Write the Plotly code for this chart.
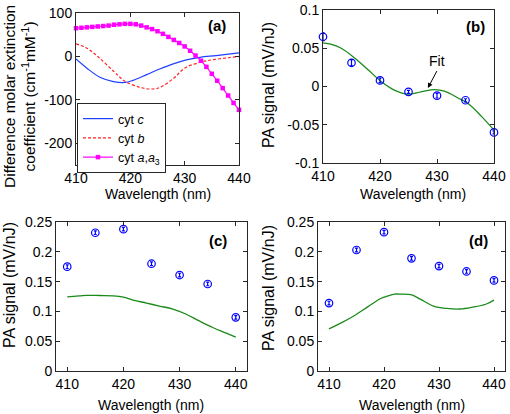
import plotly.graph_objects as go

# ---------------- data ----------------
# panel (a)
wl_c = [410, 412, 414.4, 416.9, 419, 420.5, 423, 425.4, 427.9, 430.3, 432.8, 435.8, 440]
cyt_c = [-6, -27, -48, -58, -60, -55, -42, -29, -17, -8, -2, 2, 8]
wl_b = [410, 412, 414, 417, 419, 422, 424, 425.5, 428, 430, 433, 435, 438, 440]
cyt_b = [29, 19, 0, -35, -57, -72, -75, -71, -50, -27, -13, -8, -3, 0]
wl_a = list(range(410, 441))
cyt_a = [65, 66, 67, 68, 69, 70, 71, 73, 74, 75, 75, 74, 71, 67, 63, 58, 52, 45,
         38, 31, 23, 13, 2, -10, -24, -40, -56, -73, -90, -107, -123]

# measurement wavelengths
wl_pts = [410, 415, 420, 425, 430, 435, 440]

# panel (b)
b_pts = [0.065, 0.031, 0.008, -0.007, -0.012, -0.018, -0.060]
b_err = [0.005, 0.004, 0.003, 0.002, 0.003, 0.002, 0.002]
wl_bfit = [410, 411.5, 413.2, 415.6, 417.9, 420.2, 422.6, 424.9, 427.2, 429.6, 431.3, 433.7, 435.4, 437.8, 440]
b_fit = [0.057, 0.055, 0.050, 0.037, 0.022, 0.0065, -0.005, -0.010, -0.007, -0.004, -0.006, -0.015, -0.022, -0.039, -0.057]

# panel (c)
c_pts = [0.175, 0.232, 0.238, 0.180, 0.161, 0.146, 0.090]
c_err = [0.003, 0.003, 0.003, 0.003, 0.003, 0.003, 0.003]
wl_cfit = [410, 412.2, 413.4, 415.8, 418.2, 420, 421.7, 424.1, 426.4, 428.8, 431.1, 433.5, 435.9, 438.2, 440]
c_fit = [0.1244, 0.126, 0.127, 0.1267, 0.1262, 0.124, 0.119, 0.114, 0.109, 0.104, 0.0956, 0.084, 0.073, 0.064, 0.057]

# panel (d)
d_pts = [0.114, 0.203, 0.233, 0.189, 0.176, 0.167, 0.152]
d_err = [0.003, 0.003, 0.003, 0.003, 0.003, 0.003, 0.003]
wl_dfit = [410, 412.4, 414.8, 417.1, 419.5, 420.7, 421.9, 423.1, 424.9, 426.6, 429, 431.4, 433.8, 436.1, 438.5, 440]
d_fit = [0.0706, 0.0817, 0.094, 0.108, 0.122, 0.126, 0.129, 0.129, 0.128, 0.1206, 0.109, 0.105, 0.104, 0.107, 0.112, 0.119]

# tick labels
x_ticks = [410, 420, 430, 440]
a_yticks = [100, 0, -100, -200]
a_ytext = ["100", "0", "-100", "-200"]
b_yticks = [0.1, 0.05, 0, -0.05, -0.1]
b_ytext = ["0.1", "0.05", "0", "-0.05", "-0.1"]
cd_yticks = [0, 0.05, 0.1, 0.15, 0.2, 0.25]
cd_ytext = ["0", "0.05", "0.1", "0.15", "0.2", "0.25"]

# ---------------- figure ----------------
W, H = 510, 414
FONT = "Liberation Sans, Arial, sans-serif"
BLUE = "#0000ff"
GREEN = "#1a8a1a"
FRAME = "#262626"


def px(x):
    return x / W


def py(y):
    return 1 - y / H


fig = go.Figure()

# panel a traces
fig.add_trace(go.Scatter(x=wl_c, y=cyt_c, mode="lines", line=dict(color="#2040ff", width=1.2, shape="spline"),
                         name="cyt <i>c</i>", xaxis="x", yaxis="y"))
fig.add_trace(go.Scatter(x=wl_b, y=cyt_b, mode="lines", line=dict(color="#ff2020", width=1.2, dash="3px,2px", shape="spline"),
                         name="cyt <i>b</i>", xaxis="x", yaxis="y"))
fig.add_trace(go.Scatter(x=wl_a, y=cyt_a, mode="lines+markers", line=dict(color="#ff00ff", width=1.2, shape="spline"),
                         marker=dict(color="#ff00ff", size=4.5, symbol="square"), cliponaxis=False,
                         name="cyt <i>a</i>,<i>a</i><sub>3</sub>", xaxis="x", yaxis="y"))


def pts_trace(y, err, xa, ya):
    return go.Scatter(x=wl_pts, y=y, mode="markers", showlegend=False, cliponaxis=False,
                      marker=dict(symbol="circle-open", size=7.5, color=BLUE, line=dict(width=1.2, color=BLUE)),
                      error_y=dict(type="data", array=err, color=BLUE, thickness=1.2, width=1.5),
                      xaxis=xa, yaxis=ya)


def fit_trace(x, y, xa, ya):
    return go.Scatter(x=x, y=y, mode="lines", showlegend=False,
                      line=dict(color=GREEN, width=1.3, shape="spline"), xaxis=xa, yaxis=ya)


fig.add_trace(fit_trace(wl_bfit, b_fit, "x2", "y2"))
fig.add_trace(pts_trace(b_pts, b_err, "x2", "y2"))
fig.add_trace(fit_trace(wl_cfit, c_fit, "x3", "y3"))
fig.add_trace(pts_trace(c_pts, c_err, "x3", "y3"))
fig.add_trace(fit_trace(wl_dfit, d_fit, "x4", "y4"))
fig.add_trace(pts_trace(d_pts, d_err, "x4", "y4"))


def xax(dom, rng, anchor):
    return dict(domain=dom, range=rng, anchor=anchor, tickvals=x_ticks, ticktext=[str(t) for t in x_ticks],
                ticks="inside", ticklen=4, tickcolor=FRAME, showline=True, linecolor=FRAME, linewidth=1,
                mirror="ticks", showgrid=False, zeroline=False, automargin=False,
                tickfont=dict(size=14, color="black"))


def yax(dom, rng, anchor, vals, text):
    return dict(domain=dom, range=rng, anchor=anchor, tickvals=vals, ticktext=text,
                ticks="inside", ticklen=4, tickcolor=FRAME, showline=True, linecolor=FRAME, linewidth=1,
                mirror="ticks", showgrid=False, zeroline=False, automargin=False,
                tickfont=dict(size=14, color="black"))


fig.update_layout(
    width=W, height=H,
    margin=dict(l=0, r=0, t=0, b=0, pad=0, autoexpand=False),
    paper_bgcolor="white", plot_bgcolor="white",
    font=dict(family=FONT, size=14, color="black"),
    xaxis=xax([px(76), px(239)], [410, 440], "y"),
    yaxis=yax([py(165), py(13)], [-250, 100], "x", a_yticks, a_ytext),
    xaxis2=xax([px(323), px(494)], [410, 440], "y2"),
    yaxis2=yax([py(163), py(10)], [-0.1, 0.1], "x2", b_yticks, b_ytext),
    xaxis3=xax([px(56), px(247)], [408, 442], "y3"),
    yaxis3=yax([py(371), py(222)], [0, 0.25], "x3", cd_yticks, cd_ytext),
    xaxis4=xax([px(318), px(505)], [408, 442], "y4"),
    yaxis4=yax([py(371), py(222)], [0, 0.25], "x4", cd_yticks, cd_ytext),
    showlegend=True,
    legend=dict(x=px(77), y=py(103), xanchor="left", yanchor="top", bgcolor="white",
                bordercolor=FRAME, borderwidth=1, font=dict(size=12.5), tracegroupgap=0,
                itemwidth=30),
)

ann = []


def txt(x, y, s, size=14, angle=0, bold=False):
    ann.append(dict(x=px(x), y=py(y), xref="paper", yref="paper", text=("<b>%s</b>" % s) if bold else s,
                    showarrow=False, font=dict(size=size), textangle=angle, xanchor="center", yanchor="middle"))


# panel labels
txt(217, 25, "(a)", 15, bold=True)
txt(475, 27, "(b)", 15, bold=True)
txt(218, 240, "(c)", 15, bold=True)
txt(478, 240, "(d)", 15, bold=True)

# axis titles
txt(158, 194, "Wavelength (nm)")
txt(413, 194, "Wavelength (nm)")
txt(151, 405, "Wavelength (nm)")
txt(412, 405, "Wavelength (nm)")
txt(19, 97, "Difference molar extinction<br>coefficient (cm<sup>-1</sup>mM<sup>-1</sup>)", 15.5, angle=-90)
txt(268, 85, "PA signal (mV/nJ)", 16, angle=-90)
txt(9, 285, "PA signal (mV/nJ)", 16, angle=-90)
txt(268, 288, "PA signal (mV/nJ)", 16, angle=-90)

# Fit annotation
ann.append(dict(x=428.4, y=-0.002, xref="x2", yref="y2", text="Fit", showarrow=True,
                arrowhead=2, arrowsize=1, arrowwidth=1, arrowcolor="black",
                ax=9, ay=-17, font=dict(size=14), xanchor="center", yanchor="bottom"))

fig.update_layout(annotations=ann)

fig.write_html("out.html", config={"displayModeBar": False},
               post_script="document.body.style.margin='0';document.documentElement.style.overflow='hidden';")
